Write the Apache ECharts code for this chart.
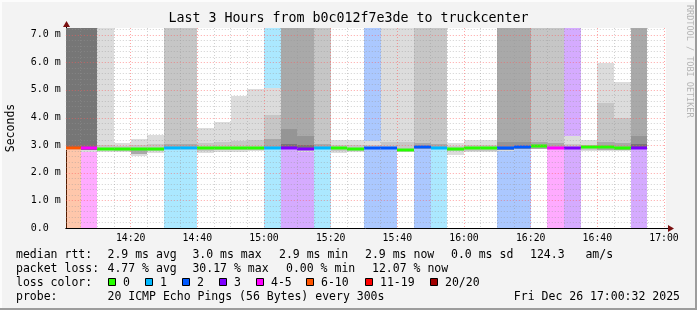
<!DOCTYPE html>
<html><head><meta charset="utf-8">
<script src="https://cdn.jsdelivr.net/npm/echarts@6/dist/echarts.min.js"></script>
<style>html,body{margin:0;padding:0;background:#f3f3f3}#c{width:697px;height:310px}</style>
</head><body><div id="c"></div>
<script>
// ---------------- data ----------------
const I = Infinity; // ping above graph top
const slots = ['14:00','14:05','14:10','14:15','14:20','14:25','14:30','14:35','14:40','14:45','14:50','14:55',
               '15:00','15:05','15:10','15:15','15:20','15:25','15:30','15:35','15:40','15:45','15:50','15:55',
               '16:00','16:05','16:10','16:15','16:20','16:25','16:30','16:35','16:40','16:45','16:50'];
const lostPings = [6,4,0,0,0,0, 1,1,0,0,0,0, 1,3,3,1,0,0, 2,2,0,2,1,0, 0,0,2,2,0,4, 3,0,0,0,3];
const medianMs  = [2.88,2.90,2.87,2.86,2.85,2.86, 2.91,2.88,2.88,2.88,2.88,2.88, 2.91,2.89,2.87,2.90,2.88,2.85,
                   2.91,2.90,2.84,2.93,2.88,2.86, 2.88,2.88,2.90,2.95,2.97,2.91, 2.90,2.92,2.92,2.88,2.91];
const smokeLo1  = [2.84,2.76,2.76,2.74,2.62,2.72, 2.85,2.84,2.72,2.76,2.76,2.78, 2.86,2.85,2.74,2.86,2.70,2.76,
                   2.86,2.85,2.76,2.85,2.85,2.66, 2.74,2.75,2.78,2.85,2.85,2.86, 2.85,2.78,2.80,2.78,2.85];
const smokeLo2  = [2.86,2.84,2.82,2.80,2.68,2.80, 2.86,2.86,2.80,2.82,2.82,2.83, 2.87,2.86,2.84,2.87,2.80,2.80,
                   2.87,2.86,2.80,2.86,2.86,2.78, 2.80,2.80,2.84,2.86,2.86,2.87, 2.86,2.82,2.84,2.82,2.86];
const smokeTop1 = [I,I,I,3.08,3.22,3.37, I,I,3.62,3.84,4.77,5.04, 5.05,I,I,I,3.20,3.18,
                   3.15,I,I,I,I,3.07, 3.20,3.20,I,I,I,I, 3.32,3.20,5.98,5.30,I];
const smokeTop2 = [I,I,3.00,2.97,3.00,3.05, I,I,3.08,3.10,3.15,3.20, 4.10,I,I,I,3.00,3.00,
                   3.02,3.10,3.10,I,I,2.98, 3.02,3.02,I,I,I,I, 3.05,3.02,4.52,4.00,I];
const smokeTop3 = [I,I,null,null,2.82,null, 3.05,3.05,null,null,null,null, 3.22,I,I,3.05,null,null,
                   null,null,null,3.08,3.05,null, null,null,I,I,3.10,3.08, null,null,3.10,3.08,I];
const smokeTop4 = [I,I,null,null,null,null, null,null,null,null,null,null, null,3.60,3.32,null,null,null,
                   null,null,null,null,null,null, null,null,3.12,3.10,null,null, null,null,null,null,3.32];
const smokeTop5 = [I,I,null,null,null,null, null,null,null,null,null,null, null,3.05,3.02,null,null,null,
                   null,null,null,null,null,null, null,null,null,null,null,null, null,null,null,null,3.05];
const lossBinMax    = [0,1,2,3,5,10,19,20];
const lossBinLabels = ['0','1','2','3','4-5','6-10','11-19','20/20'];
const xLabelTimes   = ['14:20','14:40','15:00','15:20','15:40','16:00','16:20','16:40','17:00'];
const rttText  = ['2.9 ms avg','3.0 ms max','2.9 ms min','2.9 ms now','0.0 ms sd','124.3   am/s'];
const lossText = ['4.77 % avg','30.17 % max','0.00 % min','12.07 % now'];
const probeText = '20 ICMP Echo Pings (56 Bytes) every 300s';
const stampText = 'Fri Dec 26 17:00:32 2025';
const titleText = 'Last 3 Hours from b0c012f7e3de to truckcenter';

// ---------------- styles ----------------
const lossColors = ['#26ff00','#00b8ff','#0059ff','#7e00ff','#ff00ff','#ff5500','#ff0000','#a10000'];
const smokeShades = ['#dcdcdc','#c6c6c6','#a9a9a9','#959595','#767676'];
const MONO = 'DejaVu Sans Mono';
const Y_MAX = 7.24;
const X_MIN = 32/60, X_MAX = 180 + 32/60;

const toMin = s => { const p = s.split(':').map(Number); return (p[0]-14)*60 + p[1]; };
const fmtMin = v => { const t = Math.round(v); return (14 + Math.floor(t/60)) + ':' + String(t%60).padStart(2,'0'); };
const lossBin = n => lossBinMax.findIndex(m => n <= m);

const smokeData = slots.map((s,k) => [toMin(s), toMin(s)+5, k]);
const vGridData = []; for (let m = 5; m <= 180; m += 5) vGridData.push([m, m % 20 === 0 ? 1 : 0]);
const hGridData = []; for (let i = 1; i <= 36; i++) hGridData.push([0, +(i*0.2).toFixed(1), i % 5 === 0 ? 1 : 0]);

function renderSmoke(params, api) {
  const k = api.value(2);
  const cs = params.coordSys;
  let x0 = Math.round(Math.max(api.coord([api.value(0), 0])[0], cs.x));
  let x1 = Math.round(api.coord([api.value(1), 0])[0]);
  const yOf = v => Math.round(api.coord([X_MIN, Math.min(v, Y_MAX)])[1]);
  const kids = [];
  const rect = (lo, hi, style) => {
    if (hi == null || lo == null) return;
    const ya = yOf(hi), yb = yOf(lo);
    kids.push({type:'rect', shape:{x:x0, y:ya, width:x1-x0, height:yb-ya}, style});
  };
  const bin = lossBin(lostPings[k]);
  if (lostPings[k] > 0) rect(0, Y_MAX, {fill: lossColors[bin], opacity: 0.33});
  rect(smokeLo1[k], smokeTop1[k], {fill: smokeShades[0]});
  rect(smokeLo2[k], smokeTop2[k], {fill: smokeShades[1]});
  rect(smokeLo2[k], smokeTop3[k], {fill: smokeShades[2]});
  rect(smokeLo2[k], smokeTop4[k], {fill: smokeShades[3]});
  rect(smokeLo2[k], smokeTop5[k], {fill: smokeShades[4]});
  const ym = api.coord([X_MIN, medianMs[k]])[1];
  kids.push({type:'rect', shape:{x:x0, y:Math.round(ym)-1.5, width:x1-x0, height:3}, style:{fill: lossColors[bin]}});
  return {type:'group', children: kids};
}
function renderVGrid(params, api) {
  const cs = params.coordSys;
  const x = Math.floor(api.coord([api.value(0), 0])[0]) + 0.5;
  const major = api.value(1) === 1;
  return {type:'line', shape:{x1:x, y1:cs.y, x2:x, y2:cs.y+cs.height},
          style:{stroke: major ? 'rgba(255,90,90,0.55)' : 'rgba(150,150,150,0.45)', lineWidth:1, lineDash:[1,2]}};
}
function renderHGrid(params, api) {
  const cs = params.coordSys;
  const y = Math.round(api.coord([X_MIN, api.value(1)])[1]) + 0.5;
  const major = api.value(2) === 1;
  return {type:'line', shape:{x1:cs.x, y1:y, x2:cs.x+cs.width, y2:y},
          style:{stroke: major ? 'rgba(255,90,90,0.55)' : 'rgba(150,150,150,0.45)', lineWidth:1, lineDash:[1,2]}};
}

// legend graphics
const T = (x, y, text) => ({type:'text', x, y, style:{text, font:'11.5px "'+MONO+'"', fill:'#000', verticalAlign:'middle'}});
const graphic = [];
// frame
graphic.push({type:'rect', shape:{x:0,y:0,width:697,height:2}, style:{fill:'#fcfcfc'}});
graphic.push({type:'rect', shape:{x:0,y:0,width:2,height:310}, style:{fill:'#fcfcfc'}});
graphic.push({type:'rect', shape:{x:0,y:308,width:697,height:2}, style:{fill:'#9c9c9c'}});
graphic.push({type:'rect', shape:{x:695,y:0,width:2,height:310}, style:{fill:'#9c9c9c'}});
// title
graphic.push({type:'text', x:348.5, y:19, style:{text:titleText, font:'13.3px "'+MONO+'"', fill:'#000', align:'center', verticalAlign:'middle'}});
// y-axis name
graphic.push({type:'text', x:11, y:128, rotation:Math.PI/2, style:{text:'Seconds', font:'11.5px "'+MONO+'"', fill:'#000', align:'center', verticalAlign:'middle'}});
// watermark
graphic.push({type:'text', x:689, y:5, rotation:-Math.PI/2, style:{text:'RRDTOOL / TOBI OETIKER', font:'8.5px "'+MONO+'"', fill:'#b4b4b4', align:'left', verticalAlign:'middle'}});
// axis arrows
graphic.push({type:'line', shape:{x1:666, y1:228.5, x2:669, y2:228.5}, style:{stroke:'#000', lineWidth:1}});
graphic.push({type:'polygon', shape:{points:[[668,225],[674,228.5],[668,232]]}, style:{fill:'#7a1010'}});
graphic.push({type:'line', shape:{x1:66.5, y1:28, x2:66.5, y2:25}, style:{stroke:'#000', lineWidth:1}});
graphic.push({type:'polygon', shape:{points:[[63,27],[66.5,21],[70,27]]}, style:{fill:'#7a1010'}});
// legend lines
const L1 = 255, L2 = 269, L3 = 283, L4 = 297;
graphic.push(T(16, L1, 'median rtt:'));
[107.5,192.4,279,365,451,530].forEach((x,i)=>graphic.push(T(x, L1, rttText[i])));
graphic.push(T(16, L2, 'packet loss:'));
[107.5,192.4,286,372].forEach((x,i)=>graphic.push(T(x, L2, lossText[i])));
graphic.push(T(16, L3, 'loss color:'));
const boxX = [108,145,182,219,256,306,365,430];
lossBinLabels.forEach((lab,i)=>{
  graphic.push({type:'rect', shape:{x:boxX[i]+0.5, y:L3-4.5, width:7, height:7}, style:{fill:lossColors[i], stroke:'#000', lineWidth:1}});
  graphic.push(T(boxX[i]+15, L3, lab));
});
graphic.push(T(16, L4, 'probe:'));
graphic.push(T(107.5, L4, probeText));
graphic.push({type:'text', x:680, y:L4, style:{text:stampText, font:'11.5px "'+MONO+'"', fill:'#000', align:'right', verticalAlign:'middle'}});

const chart = echarts.init(document.getElementById('c'), null, {renderer:'canvas', width:697, height:310});
chart.setOption({
  animation:false,
  backgroundColor:'#f3f3f3',
  grid:{left:65.8, top:28, width:600, height:200, show:true, backgroundColor:'#ffffff', borderWidth:0},
  xAxis:{type:'value', min:X_MIN, max:X_MAX,
    axisLine:{show:true, lineStyle:{color:'#000', width:1}},
    axisTick:{show:false}, splitLine:{show:false},
    axisLabel:{customValues: xLabelTimes.map(toMin), formatter: fmtMin, fontFamily:MONO, fontSize:9.8, color:'#000', margin:5}},
  yAxis:{type:'value', min:0, max:Y_MAX, interval:1,
    axisLine:{show:true, lineStyle:{color:'#000', width:1}},
    axisTick:{show:false}, splitLine:{show:false},
    axisLabel:{showMaxLabel:false, fontFamily:MONO, fontSize:10, color:'#000', margin:5,
      formatter: v => (Math.abs(v - Math.round(v)) > 1e-6) ? '' : (v === 0 ? '0.0  ' : v.toFixed(1) + ' m')}},
  series:[
    {type:'custom', name:'smoke', renderItem:renderSmoke, data:smokeData, silent:true, z:2},
    {type:'custom', name:'vgrid', renderItem:renderVGrid, data:vGridData, silent:true, z:4},
    {type:'custom', name:'hgrid', renderItem:renderHGrid, data:hGridData, silent:true, z:4}
  ],
  graphic: graphic
});
</script></body></html>
